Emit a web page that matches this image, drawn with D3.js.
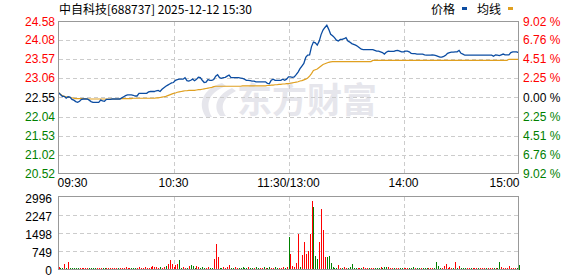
<!DOCTYPE html>
<html><head><meta charset="utf-8">
<script src="https://cdn.jsdelivr.net/npm/d3@7/dist/d3.min.js"></script>
<style>
body{margin:0;background:#fff}
svg{display:block}
text{font-family:Arial,"Liberation Sans",sans-serif;font-size:12px}
</style>
</head><body>
<svg id="c" width="578" height="276"></svg>
<script>
const titleText = "中自科技[688737] 2025-12-12 15:30";
const legendNames = ["价格", "均线"];
const watermarkText = "东方财富";
const prevClose = 22.55;
const priceTicks = [24.58, 24.08, 23.57, 23.06, 22.55, 22.04, 21.53, 21.02, 20.52];
const pctTicks = ["9.02", "6.76", "4.51", "2.25", "0.00", "2.25", "4.51", "6.76", "9.02"];
const volTicks = [2996, 2247, 1498, 749, 0];
const timeLabels = ["09:30", "10:30", "11:30/13:00", "14:00", "15:00"];
const timeIdx = [0, 60, 120, 180, 240];

const price = [
22.68,22.63,22.58,22.58,22.53,22.57,22.56,22.50,22.48,22.44,
22.42,22.45,22.50,22.51,22.51,22.51,22.48,22.44,22.42,22.42,
22.42,22.42,22.48,22.46,22.45,22.50,22.50,22.50,22.51,22.51,
22.51,22.51,22.51,22.54,22.57,22.60,22.62,22.62,22.62,22.61,
22.59,22.59,22.66,22.66,22.66,22.66,22.66,22.70,22.71,22.71,
22.71,22.73,22.74,22.71,22.77,22.81,22.85,22.88,22.91,22.94,
22.95,23.01,23.03,23.04,23.04,23.04,23.08,23.00,22.99,23.01,
23.04,23.00,23.04,23.09,23.08,23.01,22.95,22.96,23.03,23.01,
23.01,23.03,23.12,23.16,23.08,23.06,23.08,23.09,23.12,23.15,
23.08,23.08,23.08,23.08,23.08,23.07,23.06,23.04,23.01,23.01,
23.00,22.99,22.99,22.97,22.97,22.97,22.97,22.97,22.97,22.93,
22.92,23.01,23.04,23.01,23.01,23.01,23.01,23.04,23.01,23.04,
23.10,23.10,23.09,23.10,23.16,23.23,23.32,23.39,23.46,23.62,
23.68,23.69,23.91,24.03,24.01,23.95,24.05,24.23,24.35,24.42,
24.48,24.37,24.24,24.20,24.15,24.08,24.06,24.10,24.10,24.12,
24.15,24.06,24.03,23.99,23.97,23.95,23.92,23.88,23.84,23.83,
23.83,23.83,23.83,23.83,23.83,23.81,23.79,23.79,23.77,23.75,
23.71,23.76,23.79,23.78,23.78,23.78,23.80,23.81,23.79,23.77,
23.77,23.79,23.79,23.77,23.73,23.72,23.72,23.71,23.71,23.71,
23.71,23.69,23.68,23.68,23.68,23.69,23.68,23.67,23.65,23.63,
23.63,23.65,23.68,23.73,23.75,23.76,23.76,23.77,23.77,23.81,
23.73,23.71,23.68,23.68,23.68,23.68,23.68,23.68,23.68,23.68,
23.68,23.68,23.68,23.68,23.68,23.68,23.68,23.65,23.69,23.68,
23.67,23.69,23.71,23.69,23.69,23.69,23.75,23.77,23.77,23.77,
23.75];

const avgPrice = [
22.68,22.64,22.60,22.58,22.57,22.56,22.55,22.54,22.53,22.52,
22.52,22.52,22.52,22.52,22.52,22.51,22.51,22.51,22.51,22.51,
22.51,22.51,22.51,22.51,22.51,22.51,22.51,22.51,22.51,22.51,
22.51,22.51,22.51,22.52,22.52,22.52,22.52,22.52,22.52,22.53,
22.53,22.53,22.53,22.53,22.53,22.53,22.53,22.53,22.53,22.53,
22.53,22.54,22.54,22.55,22.56,22.57,22.58,22.60,22.62,22.64,
22.66,22.67,22.69,22.70,22.71,22.72,22.73,22.73,22.74,22.74,
22.74,22.74,22.75,22.76,22.76,22.77,22.78,22.79,22.80,22.81,
22.82,22.84,22.85,22.85,22.85,22.85,22.85,22.85,22.85,22.85,
22.85,22.85,22.85,22.85,22.85,22.85,22.86,22.86,22.86,22.86,
22.86,22.86,22.86,22.86,22.86,22.86,22.86,22.86,22.86,22.87,
22.87,22.88,22.88,22.89,22.89,22.90,22.90,22.91,22.91,22.92,
22.92,22.93,22.94,22.95,22.96,22.97,22.99,23.00,23.02,23.04,
23.07,23.12,23.19,23.27,23.29,23.31,23.35,23.39,23.43,23.45,
23.47,23.49,23.50,23.51,23.51,23.51,23.51,23.51,23.51,23.51,
23.51,23.51,23.51,23.51,23.51,23.51,23.51,23.51,23.51,23.51,
23.51,23.51,23.51,23.51,23.54,23.54,23.54,23.54,23.54,23.54,
23.54,23.54,23.54,23.54,23.54,23.54,23.54,23.54,23.54,23.54,
23.54,23.54,23.54,23.54,23.54,23.54,23.54,23.54,23.54,23.54,
23.54,23.54,23.54,23.54,23.54,23.54,23.54,23.54,23.54,23.54,
23.54,23.54,23.54,23.54,23.54,23.54,23.54,23.54,23.54,23.54,
23.54,23.54,23.54,23.54,23.54,23.54,23.54,23.54,23.54,23.54,
23.54,23.54,23.54,23.54,23.54,23.54,23.54,23.54,23.54,23.54,
23.54,23.54,23.54,23.54,23.54,23.57,23.57,23.57,23.57,23.57,
23.57];

const volume = [
50,40,40,206,40,250,40,30,40,30,40,30,40,40,30,40,30,40,40,30,
40,30,40,30,40,40,30,40,40,30,40,40,30,40,40,50,40,30,40,30,
40,40,60,40,40,50,40,40,50,124,50,80,40,80,40,60,124,206,370,206,
80,165,206,370,40,50,40,40,124,150,124,40,124,80,40,50,40,40,50,40,
40,413,1033,496,40,40,50,40,60,165,40,40,50,40,40,40,50,40,40,50,
40,40,40,50,40,40,40,50,40,40,60,40,40,50,40,40,40,50,40,60,
1320,605,124,50,240,1430,80,570,1100,610,735,1440,2810,2560,530,405,1105,2470,1600,490,
490,530,235,60,40,40,160,40,40,50,40,40,50,200,40,40,40,40,40,50,
40,40,40,40,40,40,40,40,50,40,50,60,50,40,40,40,40,40,40,40,
40,40,40,40,40,50,40,40,40,40,40,40,40,40,40,40,40,290,124,40,
40,124,206,40,60,40,40,290,40,124,40,40,40,40,40,40,40,40,40,40,
40,40,40,40,40,40,40,40,40,40,250,80,40,40,40,124,40,40,40,40,
165];

const volUp = [
1,0,0,1,0,1,0,0,0,0,0,1,1,1,1,1,0,0,0,0,
1,1,1,0,0,1,1,1,1,1,1,0,1,1,1,1,1,1,0,0,
0,1,1,1,1,1,1,1,1,1,1,1,1,0,1,1,0,1,1,1,
1,1,1,0,0,1,1,0,1,0,0,0,1,1,0,0,0,1,1,0,
0,1,1,1,0,0,1,1,1,1,0,0,1,1,0,0,0,0,0,1,
0,0,1,0,0,1,1,0,1,0,0,1,1,0,0,1,1,1,0,1,
0,1,1,1,1,1,0,1,1,1,1,1,1,0,0,0,1,1,1,1,
0,0,0,0,0,0,1,1,0,1,1,0,0,0,0,0,1,1,0,1,
1,1,0,1,1,0,0,0,1,0,0,0,1,1,1,0,1,1,0,0,
1,1,1,0,0,0,1,0,0,1,0,0,0,1,1,1,0,0,0,0,
1,1,1,1,1,1,0,1,0,1,0,0,0,1,1,0,1,1,1,0,
1,1,1,0,1,1,1,0,1,0,0,1,1,1,1,1,1,1,1,0,
0];

const RED = "#ff0000", GREEN = "#008000", BLUE = "#0c4da2", ORANGE = "#e0a020";
const svg = d3.select("#c");
const L = 58.5, R = 518.5, PT = 21.5, PB = 173.5, VT = 196.5, VB = 268.5;

const x = d3.scaleLinear().domain([0, 240]).range([L, R]);
const yP = d3.scaleLinear().domain([20.52, 24.58]).range([PB, PT]);
const yV = d3.scaleLinear().domain([0, 2996]).range([VB, VT]);

// watermark
const wm = svg.append("g").attr("fill", "#e6e6ec");
wm.append("path").attr("d", "M222,83 C205,88 196,102 206,117 L212,117 C204,103 210,92 226,86 Z");
wm.append("path").attr("d", "M232,88 C218,94 212,106 220,116 L226,116 C219,106 224,97 236,91 Z");
wm.append("text").attr("x", 237).attr("y", 113).text(watermarkText)
  .style("font-family", "'Noto Sans CJK SC'").style("font-size", "35px").style("font-weight", "bold");

// grids
const grid = svg.append("g").attr("stroke", "#cccccc").attr("stroke-dasharray", "4,3").attr("shape-rendering", "crispEdges");
priceTicks.slice(1, -1).forEach(v => grid.append("line").attr("x1", L).attr("x2", R).attr("y1", Math.round(yP(v)) + 0.5).attr("y2", Math.round(yP(v)) + 0.5));
volTicks.slice(1, -1).forEach(v => grid.append("line").attr("x1", L).attr("x2", R).attr("y1", Math.round(yV(v)) + 0.5).attr("y2", Math.round(yV(v)) + 0.5));
timeIdx.slice(1, -1).forEach(i => {
  const xx = Math.round(x(i)) + 0.5;
  grid.append("line").attr("x1", xx).attr("x2", xx).attr("y1", PT).attr("y2", PB);
  grid.append("line").attr("x1", xx).attr("x2", xx).attr("y1", VT).attr("y2", VB + 1);
});

// volume bars
svg.append("g").attr("shape-rendering", "crispEdges").selectAll("rect").data(volume).join("rect")
  .attr("x", (d, i) => Math.round(x(i)))
  .attr("width", 1)
  .attr("y", d => yV(d))
  .attr("height", d => VB + 1 - yV(d))
  .attr("fill", (d, i) => volUp[i] ? RED : GREEN);

// lines
const line = d3.line().x((d, i) => x(i)).y(d => yP(d));
svg.append("path").datum(avgPrice).attr("d", line).attr("fill", "none").attr("stroke", ORANGE).attr("stroke-width", 1.2);
svg.append("path").datum(price).attr("d", line).attr("fill", "none").attr("stroke", BLUE).attr("stroke-width", 1.3);

// frames
svg.append("rect").attr("x", L).attr("y", PT).attr("width", R - L).attr("height", PB - PT).attr("fill", "none").attr("stroke", "#999").attr("shape-rendering", "crispEdges");
svg.append("rect").attr("x", L).attr("y", VT).attr("width", R - L).attr("height", VB + 1 - VT).attr("fill", "none").attr("stroke", "#999").attr("shape-rendering", "crispEdges");

// axis labels
const colorOf = v => v > prevClose + 1e-9 ? RED : (v < prevClose - 1e-9 ? GREEN : "#000");
svg.append("g").selectAll("text").data(priceTicks).join("text")
  .attr("x", 55).attr("y", d => yP(d) + 4).attr("text-anchor", "end")
  .attr("fill", d => colorOf(d)).text(d => d.toFixed(2));
svg.append("g").selectAll("text").data(pctTicks).join("text")
  .attr("x", 523).attr("y", (d, i) => yP(priceTicks[i]) + 4)
  .attr("fill", (d, i) => colorOf(priceTicks[i]))
  .text(d => d + " %");
svg.append("g").selectAll("text").data(volTicks).join("text")
  .attr("x", 52).attr("y", d => yV(d) + 6).attr("text-anchor", "end").attr("fill", "#000").text(d => d);
svg.append("g").selectAll("text").data(timeLabels).join("text")
  .attr("x", (d, i) => i === 0 ? L - 1 : (i === timeLabels.length - 1 ? R + 1 : x(timeIdx[i])))
  .attr("y", 187)
  .attr("text-anchor", (d, i) => i === 0 ? "start" : (i === timeLabels.length - 1 ? "end" : "middle"))
  .attr("fill", "#000").text(d => d);

// title & legend
svg.append("text").attr("x", 59).attr("y", 14).attr("fill", "#000")
  .style("font-family", "'Noto Sans CJK SC'").text(titleText);
svg.append("text").attr("x", 431).attr("y", 14).style("font-family", "'Noto Sans CJK SC'").text(legendNames[0]);
svg.append("rect").attr("x", 462).attr("y", 7).attr("width", 5).attr("height", 3).attr("fill", BLUE);
svg.append("text").attr("x", 477).attr("y", 14).style("font-family", "'Noto Sans CJK SC'").text(legendNames[1]);
svg.append("rect").attr("x", 508).attr("y", 7).attr("width", 5).attr("height", 3).attr("fill", ORANGE);
</script>
</body></html>
